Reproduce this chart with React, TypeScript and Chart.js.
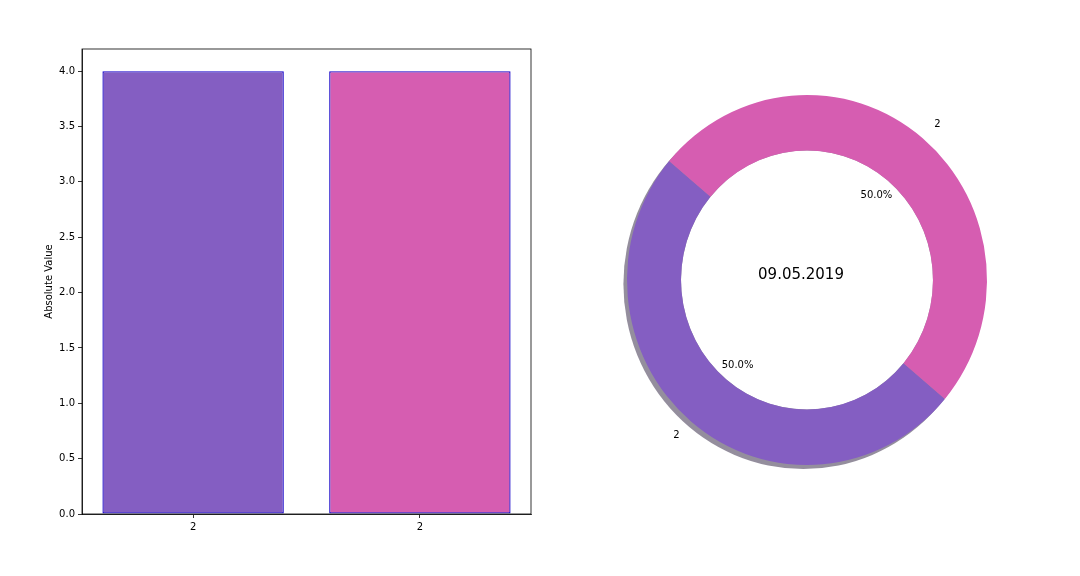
import React, { useEffect, useRef } from 'react';
import { Chart, registerables } from 'chart.js';

Chart.register(...registerables);

const categories = ['2', '2'];
const values = [4, 4];
const colors = ['#845EC2', '#D65DB1'];
const yTicks = [0, 0.5, 1, 1.5, 2, 2.5, 3, 3.5, 4];
const yMax = 4.2;
const yTitle = 'Absolute Value';
const centerLabel = '09.05.2019';

const FONT = "'DejaVu Sans', sans-serif";
const EDGE = '#1400c8';
const SY = 185 / 180; // vertical stretch of the pie (non-equal aspect)

Chart.defaults.font.family = FONT;
Chart.defaults.color = '#000';

const framePlugin = {
  id: 'frame',
  afterDraw(chart: any) {
    const { ctx, chartArea: a } = chart;
    ctx.save();
    ctx.strokeStyle = '#000';
    ctx.lineWidth = 0.8;
    ctx.strokeRect(a.left, a.top, a.right - a.left, a.bottom - a.top);
    ctx.restore();
  },
};

const piePlugin = {
  id: 'pieExtras',
  beforeDatasetsDraw(chart: any) {
    const arc = chart.getDatasetMeta(0).data[0];
    const { x: cx, y: cy, outerRadius: R, innerRadius: r } = arc;
    const ctx = chart.ctx;
    ctx.save();
    ctx.fillStyle = 'rgb(148,142,157)';
    ctx.beginPath();
    ctx.ellipse(cx - 3.6, cy + 4, R, R * SY, 0, 0, Math.PI * 2);
    ctx.fill();
    ctx.fillStyle = '#fff';
    ctx.beginPath();
    ctx.ellipse(cx, cy, r, r * SY, 0, 0, Math.PI * 2);
    ctx.fill();
    ctx.translate(cx, cy);
    ctx.scale(1, SY);
    ctx.translate(-cx, -cy);
  },
  afterDatasetsDraw(chart: any) {
    chart.ctx.restore();
  },
  afterDraw(chart: any) {
    const ctx = chart.ctx;
    const meta = chart.getDatasetMeta(0);
    const data: number[] = chart.data.datasets[0].data;
    const total = data.reduce((s, v) => s + v, 0);
    ctx.save();
    ctx.fillStyle = '#000';
    meta.data.forEach((a: any, i: number) => {
      const mid = (a.startAngle + a.endAngle) / 2;
      const R = a.outerRadius;
      const lx = a.x + 1.1 * R * Math.cos(mid);
      const ly = a.y + 1.1 * R * SY * Math.sin(mid);
      ctx.font = `10px ${FONT}`;
      ctx.textBaseline = 'middle';
      ctx.textAlign = lx > a.x ? 'left' : 'right';
      ctx.fillText(chart.data.labels[i], lx, ly);
      const px = a.x + 0.6 * R * Math.cos(mid);
      const py = a.y + 0.6 * R * SY * Math.sin(mid);
      ctx.textAlign = 'center';
      ctx.fillText(((data[i] / total) * 100).toFixed(1) + '%', px, py);
    });
    const a0 = meta.data[0];
    ctx.font = `15px ${FONT}`;
    ctx.textAlign = 'left';
    ctx.textBaseline = 'alphabetic';
    ctx.fillText(centerLabel, a0.x - 0.272 * a0.outerRadius, a0.y - 1.5);
    ctx.restore();
  },
};

export default function App() {
  const barRef = useRef<HTMLCanvasElement>(null);
  const pieRef = useRef<HTMLCanvasElement>(null);

  useEffect(() => {
    const tickFont = { size: 10, family: FONT };
    const bar = new Chart(barRef.current as HTMLCanvasElement, {
      type: 'bar',
      data: {
        datasets: [
          {
            data: values.map((v, i) => ({ x: i, y: v })) as any,
            backgroundColor: colors,
            borderColor: EDGE,
            borderWidth: 1.3,
            borderSkipped: false,
            barPercentage: 0.8,
            categoryPercentage: 1,
          },
        ],
      },
      options: {
        animation: false,
        responsive: false,
        layout: { padding: { left: 0, top: 49, right: 9, bottom: 0 } },
        plugins: { legend: { display: false }, tooltip: { enabled: false } },
        scales: {
          x: {
            type: 'linear',
            min: -0.49,
            max: 1.49,
            offset: false,
            bounds: 'data',
            afterBuildTicks: (s: any) => {
              s.ticks = categories.map((_, i) => ({ value: i }));
            },
            afterFit: (s: any) => {
              s.height = 62;
            },
            ticks: {
              callback: (v: any) => categories[Math.round(Number(v))] ?? '',
              color: '#000',
              font: tickFont,
              padding: 3,
              maxRotation: 0,
              autoSkip: false,
            },
            grid: { drawOnChartArea: false, offset: false, tickLength: 4, color: '#000', lineWidth: 0.8 },
            border: { display: true, color: '#000', width: 0.8 },
          },
          y: {
            type: 'linear',
            min: 0,
            max: yMax,
            bounds: 'data',
            afterBuildTicks: (s: any) => {
              s.ticks = yTicks.map((v) => ({ value: v }));
            },
            afterFit: (s: any) => {
              s.width = 82;
            },
            ticks: {
              callback: (v: any) => Number(v).toFixed(1),
              color: '#000',
              font: tickFont,
              padding: 3,
            },
            title: {
              display: true,
              text: yTitle,
              color: '#000',
              font: { size: 10, family: FONT },
              padding: { top: 43, bottom: 0 },
            },
            grid: { drawOnChartArea: false, tickLength: 4, color: '#000', lineWidth: 0.8 },
            border: { display: true, color: '#000', width: 0.8 },
          },
        },
      } as any,
      plugins: [framePlugin],
    });

    const pie = new Chart(pieRef.current as HTMLCanvasElement, {
      type: 'doughnut',
      data: {
        labels: categories,
        datasets: [
          {
            data: values,
            backgroundColor: colors,
            borderWidth: 0,
            clip: false,
          } as any,
        ],
      },
      options: {
        animation: false,
        responsive: false,
        rotation: 130,
        cutout: '70%',
        layout: { padding: { left: 87, top: 100, right: 93, bottom: 116 } },
        plugins: { legend: { display: false }, tooltip: { enabled: false } },
      } as any,
      plugins: [piePlugin],
    });

    return () => {
      bar.destroy();
      pie.destroy();
    };
  }, []);

  return (
    <div style={{ position: 'absolute', left: 0, top: 0, width: 1080, height: 576, background: '#fff' }}>
      <canvas ref={barRef} width={540} height={576} style={{ position: 'absolute', left: 0, top: 0 }} />
      <canvas ref={pieRef} width={540} height={576} style={{ position: 'absolute', left: 540, top: 0 }} />
    </div>
  );
}
